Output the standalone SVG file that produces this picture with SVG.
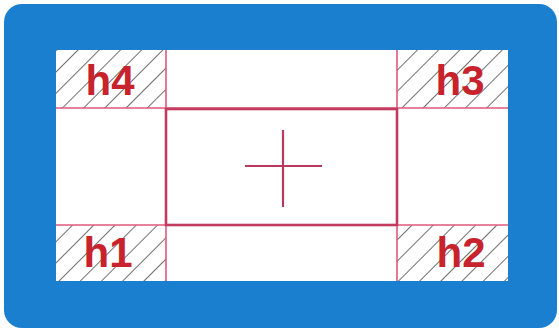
<svg xmlns="http://www.w3.org/2000/svg" width="559" height="331" viewBox="0 0 559 331">
<defs>
<pattern id="hatch" width="15" height="15" patternUnits="userSpaceOnUse" patternTransform="rotate(45)">
<line x1="0" y1="0" x2="0" y2="15" stroke="#333333" stroke-width="1.4"/>
</pattern>
<style>
.hatch{fill:url(#hatch);}
.grid{stroke:#e0577a;stroke-width:1.6;fill:none;}
.core{stroke:#c23a5e;stroke-width:2.6;fill:none;}
.cross{stroke:#b83a5c;stroke-width:2.2;}
.lbl{font-family:"Liberation Sans",Arial,sans-serif;font-weight:bold;font-size:42px;fill:#c8232c;text-anchor:middle;}
</style>
</defs>
<rect width="559" height="331" fill="#ffffff"/>
<g id="frame">
<rect x="4" y="4" width="553" height="324" rx="18" ry="18" fill="#1a7fcf"/>
<rect x="56" y="50" width="452" height="231" fill="#ffffff"/>
</g>
<g id="h4"><rect class="hatch" x="56" y="50" width="110" height="58"/><text class="lbl" x="110" y="95">h4</text></g>
<g id="h3"><rect class="hatch" x="397" y="50" width="111" height="58"/><text class="lbl" x="460" y="95">h3</text></g>
<g id="h1"><rect class="hatch" x="56" y="225" width="110" height="56"/><text class="lbl" x="108" y="267">h1</text></g>
<g id="h2"><rect class="hatch" x="397" y="225" width="111" height="56"/><text class="lbl" x="461" y="267">h2</text></g>
<g id="connectors">
<line class="grid" x1="56" y1="108" x2="508" y2="108"/>
<line class="grid" x1="56" y1="225" x2="508" y2="225"/>
<line class="grid" x1="166" y1="50" x2="166" y2="281"/>
<line class="grid" x1="397" y1="50" x2="397" y2="281"/>
</g>
<g id="center">
<rect class="core" x="166" y="109" width="231" height="116"/>
<line class="cross" x1="245" y1="166" x2="322" y2="166"/>
<line class="cross" x1="283" y1="130" x2="283" y2="207"/>
</g>
</svg>
